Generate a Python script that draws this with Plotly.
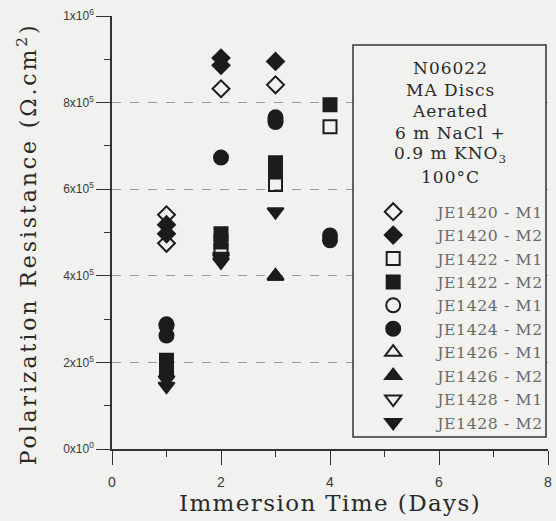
import plotly.graph_objects as go

# Polarization resistance of N06022 MA discs, aerated 6 m NaCl + 0.9 m KNO3 at 100 °C
series_names = ["JE1420 - M1", "JE1420 - M2", "JE1422 - M1", "JE1422 - M2",
                "JE1424 - M1", "JE1424 - M2", "JE1426 - M1", "JE1426 - M2",
                "JE1428 - M1", "JE1428 - M2"]

je1420_m1_days = [1, 1, 2, 3]
je1420_m1_rp = [541e3, 475e3, 832e3, 841e3]
je1420_m2_days = [1, 1, 2, 2, 3]
je1420_m2_rp = [518e3, 497e3, 903e3, 886e3, 895e3]

je1422_m1_days = [1, 2, 3, 4]
je1422_m1_rp = [190e3, 458e3, 611e3, 744e3]
je1422_m2_days = [1, 1, 2, 2, 3, 3, 4]
je1422_m2_rp = [205e3, 180e3, 497e3, 478e3, 661e3, 640e3, 795e3]

je1424_m1_days = [1, 3]
je1424_m1_rp = [285e3, 760e3]
je1424_m2_days = [1, 1, 2, 3, 3, 4, 4]
je1424_m2_rp = [288e3, 262e3, 673e3, 766e3, 755e3, 493e3, 482e3]

je1426_m1_days = [3]
je1426_m1_rp = [399e3]
je1426_m2_days = [3]
je1426_m2_rp = [399e3]

je1428_m1_days = [2]
je1428_m1_rp = [440e3]
je1428_m2_days = [1, 1, 2, 2, 3]
je1428_m2_rp = [160e3, 145e3, 445e3, 432e3, 548e3]

y_tickvals = [0, 2e5, 4e5, 6e5, 8e5, 1e6]
y_ticktext = ["0x10<sup>0</sup>", "2x10<sup>5</sup>", "4x10<sup>5</sup>",
              "6x10<sup>5</sup>", "8x10<sup>5</sup>", "1x10<sup>6</sup>"]
x_tickvals = [0, 2, 4, 6, 8]

legend_header = ["N06022", "MA Discs", "Aerated", "6 m NaCl +",
                 "0.9 m KNO<sub>3</sub>", "100°C"]

INK = "#1c1c1c"
PAPER = "#f1f1ef"
SERIF = "DejaVu Serif, serif"


def spaced(text, px):
    """Wrap text in a span with extra letter spacing."""
    return '<span style="letter-spacing:%spx">%s</span>' % (px, text)


series = [
    (je1420_m1_days, je1420_m1_rp, "diamond-open", 13),
    (je1420_m2_days, je1420_m2_rp, "diamond", 13),
    (je1422_m1_days, je1422_m1_rp, "square-open", 13),
    (je1422_m2_days, je1422_m2_rp, "square", 13),
    (je1424_m1_days, je1424_m1_rp, "circle-open", 14),
    (je1424_m2_days, je1424_m2_rp, "circle", 14),
    (je1426_m1_days, je1426_m1_rp, "triangle-up-open", 14),
    (je1426_m2_days, je1426_m2_rp, "triangle-up", 14),
    (je1428_m1_days, je1428_m1_rp, "triangle-down-open", 14),
    (je1428_m2_days, je1428_m2_rp, "triangle-down", 14),
]

fig = go.Figure()
for name, (xs, ys, sym, size) in zip(series_names, series):
    fig.add_trace(go.Scatter(
        x=xs, y=ys, mode="markers", name=spaced(name, 0.6),
        marker=dict(symbol=sym, size=size, color=INK, line=dict(color=INK, width=2)),
    ))

axis_font = dict(family="Liberation Sans, Arial, sans-serif", size=12, color="#3a3a3a")

fig.update_layout(
    width=556, height=521,
    margin=dict(l=112, r=8, t=16, b=72, autoexpand=False),
    paper_bgcolor=PAPER, plot_bgcolor=PAPER,
    showlegend=True,
    legend=dict(
        x=0.544, y=0.5866, xanchor="left", yanchor="top",
        bgcolor="rgba(0,0,0,0)", borderwidth=0, itemwidth=78,
        font=dict(family=SERIF, size=15.7, color="#6a6a6a"),
        itemsizing="trace",
    ),
    xaxis=dict(
        range=[0, 8], tickvals=x_tickvals, ticks="outside", ticklen=14, tickwidth=1.3,
        tickcolor="#333", showline=True, linecolor="#333", linewidth=1.5,
        showgrid=False, zeroline=False, tickfont=dict(axis_font, size=14),
        ticklabelstandoff=5,
        minor=dict(tickvals=[1, 3, 5, 7], ticks="outside", ticklen=6, tickcolor="#333", showgrid=False),
        title=dict(text=spaced("Immersion Time (Days)", 1.4),
                   font=dict(family=SERIF, size=23, color="#2a2a2a"), standoff=2),
    ),
    xaxis2=dict(
        range=[0, 8], overlaying="x", side="top", tickvals=x_tickvals, ticks="inside",
        ticklen=14, tickwidth=1.3, tickcolor="#333", showticklabels=False,
        showline=True, linecolor="#333", linewidth=1.5, showgrid=False, zeroline=False,
        minor=dict(tickvals=[1, 3, 5, 7], ticks="inside", ticklen=8, tickcolor="#333", showgrid=False),
    ),
    yaxis=dict(
        range=[0, 1e6], tickvals=y_tickvals, ticktext=y_ticktext, ticks="outside",
        ticklen=14, tickwidth=1.3, tickcolor="#333", showline=True, linecolor="#333",
        linewidth=1.5, zeroline=False, tickfont=axis_font,
        showgrid=True, gridcolor="#9a9a9a", griddash="dash", gridwidth=1,
        minor=dict(tickvals=[1e5, 3e5, 5e5, 7e5, 9e5], ticks="outside", ticklen=6,
                   tickcolor="#333", showgrid=False),
    ),
    yaxis2=dict(
        range=[0, 1e6], overlaying="y", side="right", tickvals=y_tickvals, ticks="inside",
        ticklen=14, tickwidth=1.3, tickcolor="#333", showticklabels=False,
        showline=True, linecolor="#333", linewidth=1.5, showgrid=False, zeroline=False,
        minor=dict(tickvals=[1e5, 3e5, 5e5, 7e5, 9e5], ticks="inside", ticklen=8,
                   tickcolor="#333", showgrid=False),
    ),
)

# Y-axis title, placed slightly below the plot's vertical centre
fig.add_annotation(
    x=-0.195, y=0.475, xref="paper", yref="paper", textangle=-90,
    text=spaced("Polarization Resistance (Ω.cm<sup>2</sup>)", 2.9),
    showarrow=False, xanchor="center", yanchor="middle",
    font=dict(family=SERIF, size=22, color="#2a2a2a"),
)

# Framed box holding the test-condition header and the legend
fig.add_shape(type="rect", xref="paper", yref="paper",
              x0=0.5528, x1=0.9954, y0=0.0277, y1=0.933,
              line=dict(color="#333", width=1.5), fillcolor=PAPER, layer="above")

header_top = 0.880
for i, line in enumerate(legend_header):
    fig.add_annotation(
        x=0.776, y=header_top - i * 0.0502, xref="paper", yref="paper",
        text=spaced(line, 1), showarrow=False, xanchor="center", yanchor="middle",
        font=dict(family=SERIF, size=17, color="#2a2a2a"),
    )

fig.write_html("out.html")
